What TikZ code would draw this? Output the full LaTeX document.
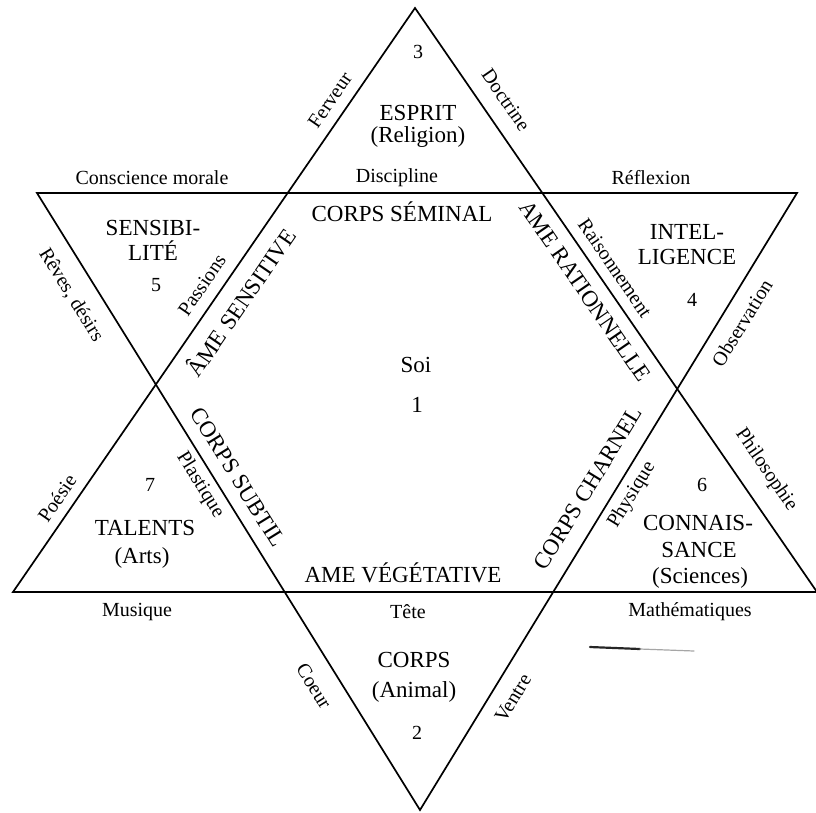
\documentclass[tikz,border=0pt]{standalone}
\usepackage{fontspec}
\setmainfont{Liberation Serif}
\usetikzlibrary{positioning}

\begin{document}
\begin{tikzpicture}[
  x=1pt, y=-1pt,
  big/.style={font=\fontsize{23}{25}\selectfont, inner sep=1pt, align=center},
  sml/.style={font=\fontsize{20}{22}\selectfont, inner sep=1pt},
  tri/.style={line width=1.7pt, line join=miter}
]
\useasboundingbox (0,0) rectangle (816,812);
% ---------------- star ----------------
\coordinate (ut) at (415,8);
\coordinate (ul) at (13,592);
\coordinate (ur) at (817,592);
\coordinate (dl) at (37,193);
\coordinate (dr) at (797,193);
\coordinate (db) at (420,810);
\draw[tri] (ut) -- (ul) -- (ur) -- cycle;
\draw[tri] (dl) -- (dr) -- (db) -- cycle;
% ---------------- top point ----------------
\node[sml] (n3) at (418,52) {3};
\node[big] (esprit) at (418,113) {ESPRIT};
\node[big] (relig) at (418,137) {(Religion)};
\node[sml, rotate=55.5] (ferveur) at (330,100) {Ferveur};
\node[sml, rotate=-55.5] (doctrine) at (506,100) {Doctrine};
% ---------------- upper line ----------------
\node[sml] (consc) at (152,178) {Conscience morale};
\node[sml] (discip) at (397,178) {Discipline};
\node[sml] (reflex) at (651,178) {Réflexion};
\node[big] (seminal) at (402,212) {CORPS SÉMINAL};
% ---------------- upper left point ----------------
\node[big] (sensib) at (153,240) {SENSIBI-\\LITÉ};
\node[sml] (n5) at (156,285) {5};
\node[sml, rotate=-58.2] (reves) at (71,295) {Rêves, désirs};
\node[sml, rotate=55.5] (passions) at (202,285) {Passions};
\node[big, rotate=55.5] (sensitive) at (240,302) {ÂME SENSITIVE};
% ---------------- upper right point ----------------
\node[big] (intel) at (687,245) {INTEL-\\LIGENCE};
\node[sml] (n4) at (692,300) {4};
\node[sml, rotate=-55.5] (raison) at (615,268) {Raisonnement};
\node[big, rotate=-55.5] (ration) at (585,291) {AME RATIONNELLE};
\node[sml, rotate=58.5] (observ) at (742,323) {Observation};
% ---------------- centre ----------------
\node[big] (soi) at (416,365) {Soi};
\node[big] (n1) at (417,405) {1};
% ---------------- lower left point ----------------
\node[big, rotate=-58.2] (subtil) at (238,477) {CORPS SUBTIL};
\node[sml, rotate=-58.2] (plast) at (200,485) {Plastique};
\node[sml] (n7) at (150,485) {7};
\node[sml, rotate=55.5] (poesie) at (57,498) {Poésie};
\node[big] (talents) at (145,528) {TALENTS};
\node[big] (arts) at (142,558) {(Arts)};
% ---------------- lower right point ----------------
\node[big, rotate=58.5] (charnel) at (588,488) {CORPS CHARNEL};
\node[sml, rotate=58.5] (physique) at (632,495) {Physique};
\node[sml] (n6) at (702,485) {6};
\node[sml, rotate=-55.5] (philo) at (766,470) {Philosophie};
\node[big] (connais) at (698,523) {CONNAIS-};
\node[big] (sance) at (699,550) {SANCE};
\node[big] (scien) at (700,578) {(Sciences)};
% ---------------- lower line ----------------
\node[big] (vegetat) at (403,573) {AME VÉGÉTATIVE};
\node[sml] (musique) at (137,612) {Musique};
\node[sml] (tete) at (408,612) {Tête};
\node[sml] (math) at (690,612) {Mathématiques};
% ---------------- bottom point ----------------
\node[big] (corps) at (414,660) {CORPS};
\node[big] (animal) at (414,692) {(Animal)};
\node[sml] (n2) at (417,733) {2};
\node[sml, rotate=-58.2] (coeur) at (314,686) {Coeur};
\node[sml, rotate=58.5] (ventre) at (513,698) {Ventre};
% smudge
\draw[line width=2.2pt, black!85, line cap=round] (590,647) -- (640,649);
\draw[line width=1.2pt, black!35, line cap=round] (640,649) -- (694,651);
\end{tikzpicture}
\end{document}
